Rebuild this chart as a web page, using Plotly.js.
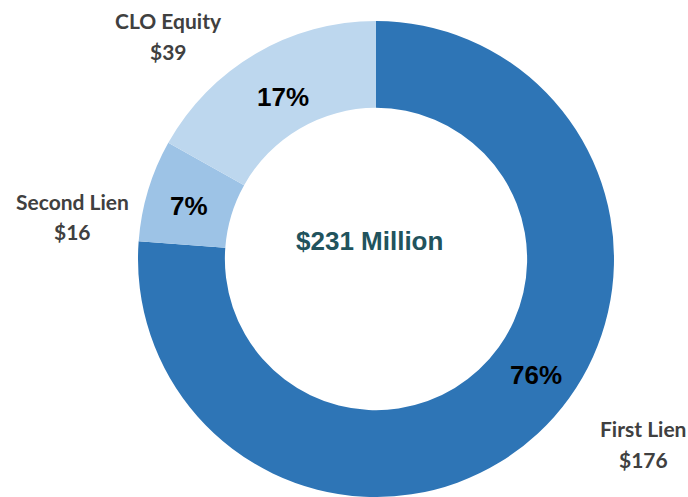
<!DOCTYPE html>
<html>
<head>
<meta charset="utf-8">
<script src="https://cdn.plot.ly/plotly-3.0.1.min.js"></script>
<style>
  html, body { margin: 0; padding: 0; background: #fff; }
  #chart { width: 688px; height: 497px; }
</style>
</head>
<body>
<div id="chart"></div>
<script>
// portfolio by lien type, $ millions
let categories = ['First Lien', 'Second Lien', 'CLO Equity'];
let amounts = [176, 16, 39];
let sliceColors = ['#2E75B6', '#9DC3E6', '#BDD7EE'];

let total = amounts.reduce((a, b) => a + b, 0);
let W = 688, H = 497;

// px -> paper helpers
function px(x) { return x / W; }
function py(y) { return 1 - y / H; }

// where the labels sit (pixels, centre of text)
let pctPos = [[536, 375], [189, 206], [283, 97]];
let namePos = [[643, 428], [72, 201], [168, 20]];
let lineGap = 31;

function note(x, y, text, font) {
  return {
    x: px(x), y: py(y), xref: 'paper', yref: 'paper',
    xanchor: 'center', yanchor: 'middle',
    text: text, showarrow: false, font: font
  };
}

let pctFont = {family: 'Liberation Sans, Arial, sans-serif', size: 26, color: '#000'};
let nameFont = {family: 'Lato, Open Sans, sans-serif', size: 21, color: '#404040'};

let annotations = [];
for (let i = 0; i < categories.length; i++) {
  let pct = Math.round(amounts[i] / total * 100) + '%';
  annotations.push(note(pctPos[i][0], pctPos[i][1], '<b>' + pct + '</b>', pctFont));
  annotations.push(note(namePos[i][0], namePos[i][1], '<b>' + categories[i] + '</b>', nameFont));
  annotations.push(note(namePos[i][0], namePos[i][1] + lineGap, '<b>$' + amounts[i] + '</b>', nameFont));
}
annotations.push(note(370, 241, '<b>$' + total + ' Million</b>',
  {family: 'Liberation Sans, Arial, sans-serif', size: 26, color: '#21535D'}));

let trace = {
  type: 'pie',
  labels: categories,
  values: amounts,
  hole: 0.635,
  sort: false,
  direction: 'clockwise',
  rotation: 0,
  textinfo: 'none',
  hoverinfo: 'label+value+percent',
  marker: {colors: sliceColors, line: {color: '#fff', width: 0}},
  domain: {x: [px(138), px(614)], y: [py(497), py(21)]},
  showlegend: false
};

let layout = {
  width: W,
  height: H,
  margin: {l: 0, r: 0, t: 0, b: 0},
  paper_bgcolor: '#fff',
  annotations: annotations
};

Plotly.newPlot('chart', [trace], layout, {displayModeBar: false});
</script>
</body>
</html>
